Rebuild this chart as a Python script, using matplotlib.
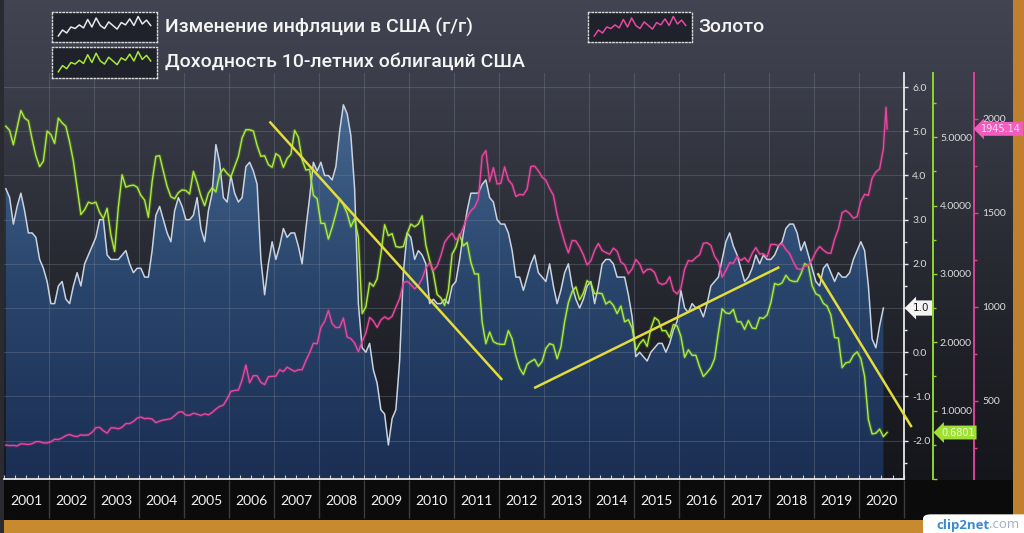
import numpy as np
import matplotlib
matplotlib.use("Agg")
import matplotlib.pyplot as plt
from matplotlib.patches import Rectangle, FancyBboxPatch
from matplotlib.colors import LinearSegmentedColormap
from matplotlib.text import Annotation
import matplotlib.ticker as mticker

# ---------------- data ----------------
YEARS = list(range(2001, 2021))
YEAR_LABELS = [str(y) for y in YEARS]

# US CPI y/y, %, monthly Jan 2001 .. Jul 2020
CPI_YOY = [
    3.7, 3.5, 2.9, 3.3, 3.6, 3.2, 2.7, 2.7, 2.6, 2.1, 1.9, 1.6,
    1.1, 1.1, 1.5, 1.6, 1.2, 1.1, 1.5, 1.8, 1.5, 2.0, 2.2, 2.4,
    2.6, 3.0, 3.0, 2.2, 2.1, 2.1, 2.1, 2.2, 2.3, 2.0, 1.8, 1.9,
    1.9, 1.7, 1.7, 2.3, 3.1, 3.3, 3.0, 2.7, 2.5, 3.2, 3.5, 3.3,
    3.0, 3.0, 3.1, 3.5, 2.8, 2.5, 3.2, 3.6, 4.7, 4.3, 3.5, 3.4,
    4.0, 3.6, 3.4, 3.5, 4.2, 4.3, 4.1, 3.8, 2.1, 1.3, 2.0, 2.5,
    2.1, 2.4, 2.8, 2.6, 2.7, 2.7, 2.4, 2.0, 2.8, 3.5, 4.3, 4.1,
    4.3, 4.0, 4.0, 3.9, 4.2, 5.0, 5.6, 5.4, 4.9, 3.7, 1.1, 0.1,
    0.0, 0.2, -0.4, -0.7, -1.3, -1.4, -2.1, -1.5, -1.3, -0.2, 1.8, 2.7,
    2.6, 2.1, 2.3, 2.2, 2.0, 1.1, 1.2, 1.1, 1.1, 1.2, 1.1, 1.5,
    1.6, 2.1, 2.7, 3.2, 3.6, 3.6, 3.6, 3.8, 3.9, 3.5, 3.4, 3.0,
    2.9, 2.9, 2.7, 2.3, 1.7, 1.7, 1.4, 1.7, 2.0, 2.2, 1.8, 1.7,
    1.6, 2.0, 1.5, 1.1, 1.4, 1.8, 2.0, 1.5, 1.2, 1.0, 1.2, 1.5,
    1.6, 1.1, 1.5, 2.0, 2.1, 2.1, 2.0, 1.7, 1.7, 1.7, 1.3, 0.8,
    -0.1, 0.0, -0.1, -0.2, 0.0, 0.1, 0.2, 0.2, 0.0, 0.2, 0.5, 0.7,
    1.4, 1.0, 0.9, 1.1, 1.0, 1.0, 0.8, 1.1, 1.5, 1.6, 1.7, 2.1,
    2.5, 2.7, 2.4, 2.2, 1.9, 1.6, 1.7, 1.9, 2.2, 2.0, 2.2, 2.1,
    2.1, 2.2, 2.4, 2.5, 2.8, 2.9, 2.9, 2.7, 2.3, 2.5, 2.2, 1.9,
    1.6, 1.5, 1.9, 2.0, 1.8, 1.6, 1.8, 1.7, 1.7, 1.8, 2.1, 2.3,
    2.5, 2.3, 1.5, 0.3, 0.1, 0.6, 1.0,
]

# US 10-year Treasury yield, %, monthly Jan 2001 .. Aug 2020
UST10 = [
    5.16, 5.10, 4.89, 5.14, 5.39, 5.28, 5.24, 4.97, 4.73, 4.57, 4.65, 5.09,
    5.04, 4.91, 5.28, 5.21, 5.16, 4.93, 4.65, 4.26, 3.87, 3.94, 4.05, 4.03,
    4.05, 3.90, 3.81, 3.96, 3.57, 3.33, 3.98, 4.45, 4.27, 4.29, 4.30, 4.27,
    4.15, 4.08, 3.83, 4.35, 4.72, 4.73, 4.50, 4.28, 4.13, 4.10, 4.19, 4.23,
    4.22, 4.17, 4.50, 4.34, 4.14, 4.00, 4.18, 4.26, 4.20, 4.46, 4.54, 4.47,
    4.42, 4.57, 4.72, 4.99, 5.11, 5.11, 5.09, 4.88, 4.72, 4.73, 4.60, 4.56,
    4.76, 4.72, 4.56, 4.69, 4.75, 5.10, 5.00, 4.67, 4.52, 4.53, 4.15, 4.10,
    3.74, 3.74, 3.51, 3.68, 3.88, 4.10, 4.01, 3.89, 3.69, 3.81, 3.53, 2.42,
    2.52, 2.87, 2.82, 2.93, 3.29, 3.72, 3.56, 3.59, 3.40, 3.39, 3.40, 3.59,
    3.73, 3.69, 3.73, 3.85, 3.42, 3.20, 3.01, 2.70, 2.65, 2.54, 2.76, 3.29,
    3.39, 3.58, 3.41, 3.46, 3.17, 3.00, 3.00, 2.30, 1.98, 2.15, 2.01, 1.98,
    1.97, 1.97, 2.17, 2.05, 1.80, 1.62, 1.53, 1.68, 1.72, 1.75, 1.65, 1.72,
    1.91, 1.98, 1.96, 1.76, 1.93, 2.30, 2.58, 2.74, 2.81, 2.62, 2.72, 2.90,
    2.86, 2.71, 2.72, 2.71, 2.56, 2.60, 2.54, 2.42, 2.53, 2.30, 2.33, 2.21,
    1.88, 1.98, 2.04, 1.94, 2.20, 2.36, 2.32, 2.17, 2.17, 2.07, 2.26, 2.24,
    2.09, 1.78, 1.89, 1.81, 1.81, 1.64, 1.50, 1.56, 1.63, 1.76, 2.14, 2.49,
    2.43, 2.42, 2.48, 2.30, 2.30, 2.19, 2.32, 2.21, 2.20, 2.36, 2.35, 2.40,
    2.58, 2.86, 2.84, 2.87, 2.98, 2.91, 2.89, 2.89, 3.00, 3.15, 3.12, 2.83,
    2.71, 2.68, 2.57, 2.53, 2.40, 2.07, 2.06, 1.63, 1.70, 1.71, 1.81, 1.86,
    1.76, 1.50, 0.87, 0.66, 0.67, 0.73, 0.62, 0.6801,
]

# Gold, USD/oz, monthly Jan 2001 .. Jul 2020
GOLD = [
    265, 262, 263, 260, 272, 270, 268, 272, 283, 283, 276, 276,
    282, 296, 294, 303, 315, 321, 313, 310, 319, 317, 319, 333,
    357, 359, 341, 328, 356, 356, 351, 360, 379, 379, 390, 408,
    414, 405, 407, 403, 384, 392, 398, 401, 405, 421, 439, 442,
    424, 423, 434, 429, 422, 431, 425, 438, 456, 470, 477, 510,
    550, 555, 557, 611, 690, 596, 634, 633, 598, 586, 628, 630,
    631, 665, 655, 679, 667, 656, 665, 665, 713, 755, 806, 803,
    890, 922, 980, 910, 889, 890, 940, 839, 830, 807, 761, 816,
    859, 943, 924, 890, 929, 946, 934, 949, 997, 1043, 1127, 1135,
    1118, 1095, 1113, 1149, 1205, 1233, 1193, 1216, 1271, 1342, 1370, 1391,
    1356, 1373, 1424, 1474, 1510, 1529, 1573, 1800, 1830, 1665, 1739, 1652,
    1656, 1743, 1674, 1650, 1586, 1597, 1594, 1626, 1745, 1747, 1722, 1689,
    1672, 1628, 1593, 1488, 1414, 1343, 1286, 1352, 1349, 1317, 1276, 1222,
    1244, 1300, 1336, 1299, 1288, 1279, 1311, 1295, 1237, 1223, 1175, 1201,
    1251, 1227, 1179, 1198, 1199, 1182, 1128, 1118, 1125, 1159, 1086, 1068,
    1098, 1200, 1245, 1242, 1261, 1276, 1337, 1340, 1326, 1267, 1238, 1157,
    1192, 1234, 1231, 1267, 1246, 1260, 1237, 1283, 1314, 1280, 1282, 1265,
    1331, 1331, 1325, 1335, 1304, 1282, 1238, 1202, 1198, 1215, 1221, 1250,
    1292, 1320, 1301, 1286, 1284, 1359, 1413, 1500, 1511, 1495, 1470, 1479,
    1561, 1597, 1592, 1683, 1716, 1732, 1840,
]
GOLD_TAIL_T = [2020.600, 2020.625]      # early / mid August 2020
GOLD_TAIL = [2060, 1945.14]

# hand-drawn trend lines on the yield scale: (year, yield)
TREND_LINES = [
    [(2006.90, 5.23), (2012.07, 1.45)],
    [(2012.78, 1.33), (2018.23, 3.10)],
    [(2019.08, 3.01), (2021.17, 0.76)],
]

LAST_CPI = 1.0
LAST_YIELD = 0.6801
LAST_GOLD = 1945.14

LEGEND_LABELS = ["Изменение инфляции в США (г/г)",
                 "Доходность 10-летних облигаций США",
                 "Золото"]
ICON_WAVE = [0.25, 0.45, 0.35, 0.55, 0.5, 0.62, 0.52, 0.8, 0.55, 0.85, 0.6,
             0.5, 0.72, 0.6, 0.48, 0.7, 0.62, 0.82, 0.6, 0.9, 0.65, 0.78, 0.6]

# ---------------- figure ----------------
W, H = 1024, 533
fig = plt.figure(figsize=(W / 100, H / 100), dpi=100)

def fx(px):
    return px / W

def fy(py):
    return 1 - py / H

# background gradient (full figure)
bg = fig.add_axes([0, 0, 1, 1], zorder=-10)
bg.set_axis_off()
bg_cmap = LinearSegmentedColormap.from_list(
    "bg", [(0.0, "#121317"), (0.15, "#17181d"), (0.55, "#2a2c35"),
           (0.85, "#3b3e4a"), (1.0, "#424551")])
grad = np.linspace(0, 1, 512).reshape(-1, 1)
bg.imshow(grad, extent=[0, 1, 0, 1], origin="lower", cmap=bg_cmap,
          aspect="auto")
bg.set_xlim(0, 1)
bg.set_ylim(0, 1)

# black band with years + orange frame pieces
fig.patches.append(Rectangle((0, fy(520)), fx(1013), (520 - 480) / H,
                             transform=fig.transFigure, fc="#0b0b0c",
                             ec="none", zorder=-5))
fig.patches.append(Rectangle((0, 0), 1, fy(520), transform=fig.transFigure,
                             fc="#c88a2e", ec="none", zorder=-4))
fig.patches.append(Rectangle((fx(1013), 0), fx(11), 1,
                             transform=fig.transFigure, fc="#c07f2c",
                             ec="none", zorder=-4))
fig.patches.append(Rectangle((0, 0), fx(4), 1, transform=fig.transFigure,
                             fc="#2a2b30", ec="none", zorder=-4))

# main axes (inflation)
AX_L, AX_R, AX_T, AX_B = 4, 904, 73, 479
rect = [fx(AX_L), fy(AX_B), fx(AX_R - AX_L), (AX_B - AX_T) / H]
ax = fig.add_axes(rect, zorder=1)
ax.patch.set_alpha(0)

CPI_LIM = (-2.87, 6.32)
YLD_LIM = (0.0, 5.94)
GLD_LIM = (84.5, 2242)

t_cpi = 2001 + (np.arange(len(CPI_YOY)) + 0.5) / 12
t_yld = 2001 + (np.arange(len(UST10)) + 0.5) / 12
t_gld = np.concatenate([2001 + (np.arange(len(GOLD)) + 0.5) / 12, GOLD_TAIL_T])
gold_vals = np.concatenate([GOLD, GOLD_TAIL])

# blue gradient fill under inflation
fill = ax.fill_between(t_cpi, CPI_YOY, CPI_LIM[0], color="none", lw=0)
fill_cmap = LinearSegmentedColormap.from_list("fill", ["#1b2e53", "#2a466d", "#4a6d96"])
im = ax.imshow(grad, extent=[2001, 2021, CPI_LIM[0], CPI_LIM[1]],
               origin="lower", cmap=fill_cmap, aspect="auto", zorder=1)
im.set_clip_path(fill.get_paths()[0], transform=ax.transData)

# grid
for yv in range(-2, 7):
    ax.axhline(yv, color="#7a8294", lw=0.8, alpha=0.35, zorder=1.5)
for yr in YEARS[1:]:
    ax.axvline(yr, color="#7a8294", lw=0.8, alpha=0.35, zorder=1.5)

ax.plot(t_cpi, CPI_YOY, color="#c9d3e0", lw=1.1, zorder=2)

ax.set_xlim(2001, 2021)
ax.set_ylim(*CPI_LIM)

# twin axes: yield, gold, trend lines
ax_g = ax.twinx()
ax_p = ax.twinx()
ax_t = ax.twinx()

for s in ("left", "top"):
    ax.spines[s].set_visible(False)
for s in ("right", "bottom"):
    ax.spines[s].set_color("#e8e8e8")
    ax.spines[s].set_linewidth(1.3)

ax.yaxis.tick_right()
ax.set_yticks(range(-2, 7))
ax.set_yticklabels(["" if v == 1 else f"{v:.1f}" for v in range(-2, 7)])
ax.yaxis.set_minor_locator(mticker.MultipleLocator(0.5))
ax.tick_params(axis="y", which="both", colors="#e8e8e8", labelcolor="#dcdcdc",
               direction="out", length=3, width=1, labelsize=7.5, pad=3,
               left=False, right=True, labelleft=False, labelright=True)
ax.tick_params(axis="y", which="minor", length=2)
for lab in ax.get_yticklabels():
    lab.set_family("Lato")

ax.set_xticks([])
ax.xaxis.set_minor_locator(mticker.MultipleLocator(0.25))
ax.tick_params(axis="x", which="minor", direction="in", length=3,
               colors="#d0d0d0", width=0.8)

# year labels + separators in the black band
xt = ax.get_xaxis_transform()
for yr, lab in zip(YEARS, YEAR_LABELS):
    ax.text(yr + 0.5, (AX_B - 501) / (AX_B - AX_T), lab, transform=xt,
            ha="center", va="center", color="#f2f2f2", fontsize=10,
            family="Lato", clip_on=False)
ax.vlines(YEARS[1:] + [2021], (AX_B - 480) / (AX_B - AX_T),
          (AX_B - 518) / (AX_B - AX_T), transform=xt, colors="#3c3c3c",
          lw=1, clip_on=False)

# inflation tag
ax.text((913 - AX_L) / (AX_R - AX_L), LAST_CPI, f"{LAST_CPI:.1f}",
        transform=ax.get_yaxis_transform(),
        ha="left", va="center", fontsize=7.5, color="#1a1a1a",
        family="DejaVu Sans",
        bbox=dict(boxstyle="larrow,pad=0.25", fc="#f4f4f4", ec="none"),
        zorder=10, clip_on=False)

# ---- yield series
ax_g.set_zorder(2)
ax_g.set_ylim(*YLD_LIM)
ax_g.plot(t_yld, UST10, color="#7fd81e", lw=2.6, alpha=0.22, zorder=2)
ax_g.plot(t_yld, UST10, color="#aeea3a", lw=1.0, zorder=3)
for s in ("left", "top", "bottom"):
    ax_g.spines[s].set_visible(False)
ax_g.spines["right"].set_position(("axes", (933 - AX_L) / (AX_R - AX_L)))
ax_g.spines["right"].set_color("#8fd72c")
ax_g.spines["right"].set_linewidth(1.4)
ax_g.set_yticks([0, 1, 2, 3, 4, 5])
ax_g.set_yticklabels([""] + [f"{v:.4f}" for v in [1, 2, 3, 4, 5]])
ax_g.yaxis.set_minor_locator(mticker.MultipleLocator(0.5))
ax_g.tick_params(axis="y", which="both", colors="#8fd72c", labelcolor="#dcdcdc",
                 direction="out", length=3, width=1, labelsize=7.5, pad=2)
ax_g.tick_params(axis="y", which="minor", length=2)
for lab in ax_g.get_yticklabels():
    lab.set_family("Lato")

# ---- gold series
ax_p.set_zorder(3)
ax_p.set_ylim(*GLD_LIM)
ax_p.plot(t_gld, gold_vals, color="#d0308a", lw=2.6, alpha=0.22, zorder=2)
ax_p.plot(t_gld, gold_vals, color="#e8489f", lw=1.0, zorder=3)
for s in ("left", "top", "bottom"):
    ax_p.spines[s].set_visible(False)
ax_p.spines["right"].set_position(("axes", (974 - AX_L) / (AX_R - AX_L)))
ax_p.spines["right"].set_color("#e0409a")
ax_p.spines["right"].set_linewidth(1.4)
ax_p.set_yticks([500, 1000, 1500, 2000])
ax_p.yaxis.set_minor_locator(mticker.MultipleLocator(250))
ax_p.tick_params(axis="y", which="both", colors="#e0409a", labelcolor="#dcdcdc",
                 direction="out", length=3, width=1, labelsize=7.5, pad=3)
ax_p.tick_params(axis="y", which="minor", length=2)
for lab in ax_p.get_yticklabels():
    lab.set_family("Lato")
ax_p.text((981 - AX_L) / (AX_R - AX_L), LAST_GOLD, f"{LAST_GOLD:.2f}",
          transform=ax_p.get_yaxis_transform(), ha="left", va="center",
          fontsize=7, color="#ffe0f3", family="DejaVu Sans",
          bbox=dict(boxstyle="larrow,pad=0.2", fc="#f25dbd", ec="none"),
          zorder=10, clip_on=False)

# ---- trend lines + yield tag (top layer)
ax_t.set_zorder(4)
ax_t.set_ylim(*YLD_LIM)
ax_t.set_axis_off()
for seg in TREND_LINES:
    xs = [p[0] for p in seg]
    ys = [p[1] for p in seg]
    ax_t.plot(xs, ys, color="#e4dc3a", lw=1.8, solid_capstyle="butt",
              clip_on=False)
ax_t.set_xlim(2001, 2021)
ax_t.text((941 - AX_L) / (AX_R - AX_L), LAST_YIELD, f"{LAST_YIELD:.4f}",
          transform=ax_t.get_yaxis_transform(), ha="left", va="center",
          fontsize=7, color="#effed2", family="DejaVu Sans",
          bbox=dict(boxstyle="larrow,pad=0.2", fc="#9fe035", ec="none"),
          zorder=10, clip_on=False)

# ---------------- legend ----------------
LEG_BOXES = [(52, 12, 157, 42), (52, 47, 157, 78), (588, 12, 692, 42)]
LEG_COLORS = ["#e8e8e8", "#a8e838", "#e8489f"]
LEG_TEXT_POS = [(165, 27), (165, 62), (698, 27)]
for (x0, y0, x1, y1), col, lab, (tx, ty) in zip(LEG_BOXES, LEG_COLORS,
                                                LEGEND_LABELS, LEG_TEXT_POS):
    ia = fig.add_axes([fx(x0), fy(y1), fx(x1 - x0), (y1 - y0) / H], zorder=5)
    ia.set_facecolor("#1f212b")
    ia.set_xticks([])
    ia.set_yticks([])
    for sp in ia.spines.values():
        sp.set_color("#d8d8d8")
        sp.set_linestyle((0, (1, 1.5)))
        sp.set_linewidth(1.0)
    ia.plot(np.arange(len(ICON_WAVE)), ICON_WAVE, color=col, lw=1.1)
    ia.set_xlim(-1.5, len(ICON_WAVE) + 0.5)
    ia.set_ylim(0.05, 1.05)
    fig.text(fx(tx), fy(ty), lab, ha="left", va="center", color="#f5f5f5",
             fontsize=14, family="Roboto", fontweight="medium")

# ---------------- watermark ----------------
fig.patches.append(FancyBboxPatch((fx(923), fy(533) - 0.01), fx(110), 0.045,
                                  boxstyle="round,pad=0,rounding_size=0.008",
                                  transform=fig.transFigure, fc="white",
                                  ec="none", zorder=20))
wm = fig.text(fx(936), fy(525), "clip2net", ha="left", va="center",
              color="#3a8ad4", fontsize=9.5, fontweight="bold",
              family="Open Sans", zorder=21)
wm2 = Annotation(".com", xy=(1.0, 0.5), xycoords=wm, ha="left", va="center",
                 color="#9fb0c4", fontsize=9.5, family="Open Sans",
                 annotation_clip=False)
wm2.set_zorder(22)
fig.add_artist(wm2)

fig.savefig("out.png", dpi=100, facecolor="#121317")
